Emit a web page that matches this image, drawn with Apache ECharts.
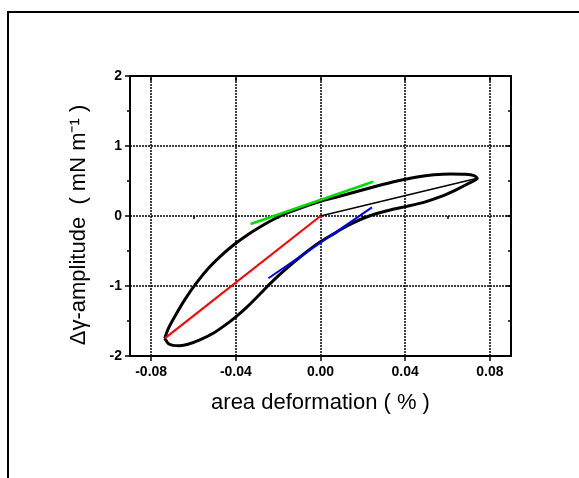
<!DOCTYPE html>
<html><head><meta charset="utf-8">
<script src="https://cdn.jsdelivr.net/npm/echarts@6/dist/echarts.min.js"></script>
<style>html,body{margin:0;padding:0;background:#fff}#c{width:579px;height:478px}</style>
</head><body><div id="c"></div>
<script>
// hysteresis loop (area deformation %, Δγ amplitude): lower branch then upper branch
var loopX = [-0.0736,-0.0720,-0.0697,-0.0665,-0.0626,-0.0570,-0.0507,-0.0444,-0.0400,-0.0349,-0.0294,-0.0239,-0.0183,-0.0128,-0.0065,0.0000,
             0.0062,0.0125,0.0188,0.0251,0.0330,0.0409,0.0488,0.0567,0.0638,0.0694,0.0741,
             0.0725,0.0686,0.0615,0.0536,0.0457,0.0362,0.0267,0.0172,0.0077,0.0000,-0.0081,-0.0160,-0.0223,-0.0286,-0.0349,-0.0400,
             -0.0460,-0.0523,-0.0586,-0.0641,-0.0689,-0.0720,-0.0736];
var loopY = [-1.748,-1.819,-1.848,-1.852,-1.833,-1.771,-1.676,-1.545,-1.440,-1.305,-1.140,-0.970,-0.810,-0.665,-0.510,-0.367,
             -0.255,-0.143,-0.050,0.022,0.086,0.138,0.195,0.276,0.371,0.457,0.538,
             0.576,0.595,0.600,0.588,0.558,0.500,0.428,0.350,0.272,0.210,0.128,0.040,-0.050,-0.158,-0.278,-0.390,
             -0.540,-0.725,-0.955,-1.195,-1.440,-1.615,-1.748];
var innerX = [0.0, 0.0741];
var innerY = [0.0, 0.538];
var redX = [0.0, -0.0736];
var redY = [0.0, -1.748];
var greenX = [-0.033, 0.0248];
var greenY = [-0.114, 0.49];
var blueX = [-0.0246, 0.0243];
var blueY = [-0.89, 0.124];
var xMajor = [-0.08, -0.04, 0.00, 0.04, 0.08];
var xMinor = [-0.06, -0.02, 0.02, 0.06];
var xLabels = ['-0.08', '-0.04', '0.00', '0.04', '0.08'];

function pairs(xs, ys){ return xs.map(function(x,i){return [x, ys[i]];}); }
var chart = echarts.init(document.getElementById('c'));
var dotted = {color:'#000', width:1.5, type:[2,1]};
var font = 'Arial, "Liberation Sans", Helvetica, sans-serif';
function xAx(pos, vals, len, inside, extra){
  var a = {type:'value', min:-0.09, max:0.09, position:pos,
    axisLine:{show:false}, splitLine:{show:false},
    axisTick:{show:true, inside:inside, length:len, customValues:vals, lineStyle:{color:'#000', width:1.5}},
    axisLabel:{show:false}};
  return Object.assign(a, extra||{});
}
var xAxes = [
  xAx('bottom', xMajor, 5, false, {
    axisLine:{show:true, onZero:false, lineStyle:{color:'#000', width:2}},
    axisLabel:{show:true, customValues:xMajor, margin:9, color:'#000', fontWeight:'bold', fontSize:14, fontFamily:font,
      formatter:function(v){ var i = xMajor.indexOf(Math.round(v*100)/100); return i>=0 ? xLabels[i] : ''; }},
    name:'area deformation ( % )', nameLocation:'middle', nameGap:36,
    nameTextStyle:{color:'#000', fontSize:22, fontFamily:font}
  }),
  xAx('bottom', xMinor, 3, false),
  xAx('top', xMajor, 5, true, {axisLine:{show:true, onZero:false, lineStyle:{color:'#000', width:2}}}),
  xAx('top', xMinor, 3, true)
];
function yAx(pos, inside, extra){
  var a = {type:'value', min:-2, max:2, interval:1, position:pos,
    axisLine:{show:true, onZero:false, lineStyle:{color:'#000', width:2}},
    axisTick:{show:true, inside:inside, length:5, lineStyle:{color:'#000', width:1.5}},
    minorTick:{show:true, splitNumber:2, length:3, lineStyle:{color:'#000', width:1.5}},
    splitLine:{show:false}, axisLabel:{show:false}};
  return Object.assign(a, extra||{});
}
var yAxes = [
  yAx('left', false, {
    splitLine:{show:true, lineStyle:dotted},
    axisLabel:{show:true, margin:8, color:'#000', fontWeight:'bold', fontSize:14, fontFamily:font},
    name:'Δγ-amplitude  ( mN m⁻¹ )', nameLocation:'middle', nameGap:40,
    nameTextStyle:{color:'#000', fontSize:22, fontFamily:font, padding:[0,18,0,0]}
  }),
  yAx('right', true)
];
function line(xs, ys, color, w, z){
  return {type:'line', xAxisIndex:0, yAxisIndex:0, data:pairs(xs, ys), showSymbol:false, symbol:'none',
    smooth:false, lineStyle:{color:color, width:w}, z:z, silent:true, animation:false};
}
var loopSeries = line(loopX, loopY, '#000', 3, 5);
loopSeries.smooth = 0.25;
loopSeries.markLine = {silent:true, symbol:'none', label:{show:false}, lineStyle:dotted, animation:false,
  data: xMajor.map(function(v){ return {xAxis:v}; })};
var option = {
  animation:false,
  backgroundColor:'#fff',
  grid:{left:130, right:68, top:76, bottom:122, containLabel:false},
  xAxis:xAxes, yAxis:yAxes,
  graphic:[
    {type:'polyline', shape:{points:[[8,478],[8,12],[579,12]]}, style:{stroke:'#000', lineWidth:2, fill:null}}
  ],
  series:[
    loopSeries,
    line(innerX, innerY, '#000', 1.5, 6),
    line(redX, redY, '#ff0000', 2, 7),
    line(greenX, greenY, '#00dd00', 2.5, 7),
    line(blueX, blueY, '#0000ff', 2, 7)
  ]
};
chart.setOption(option);
</script></body></html>
